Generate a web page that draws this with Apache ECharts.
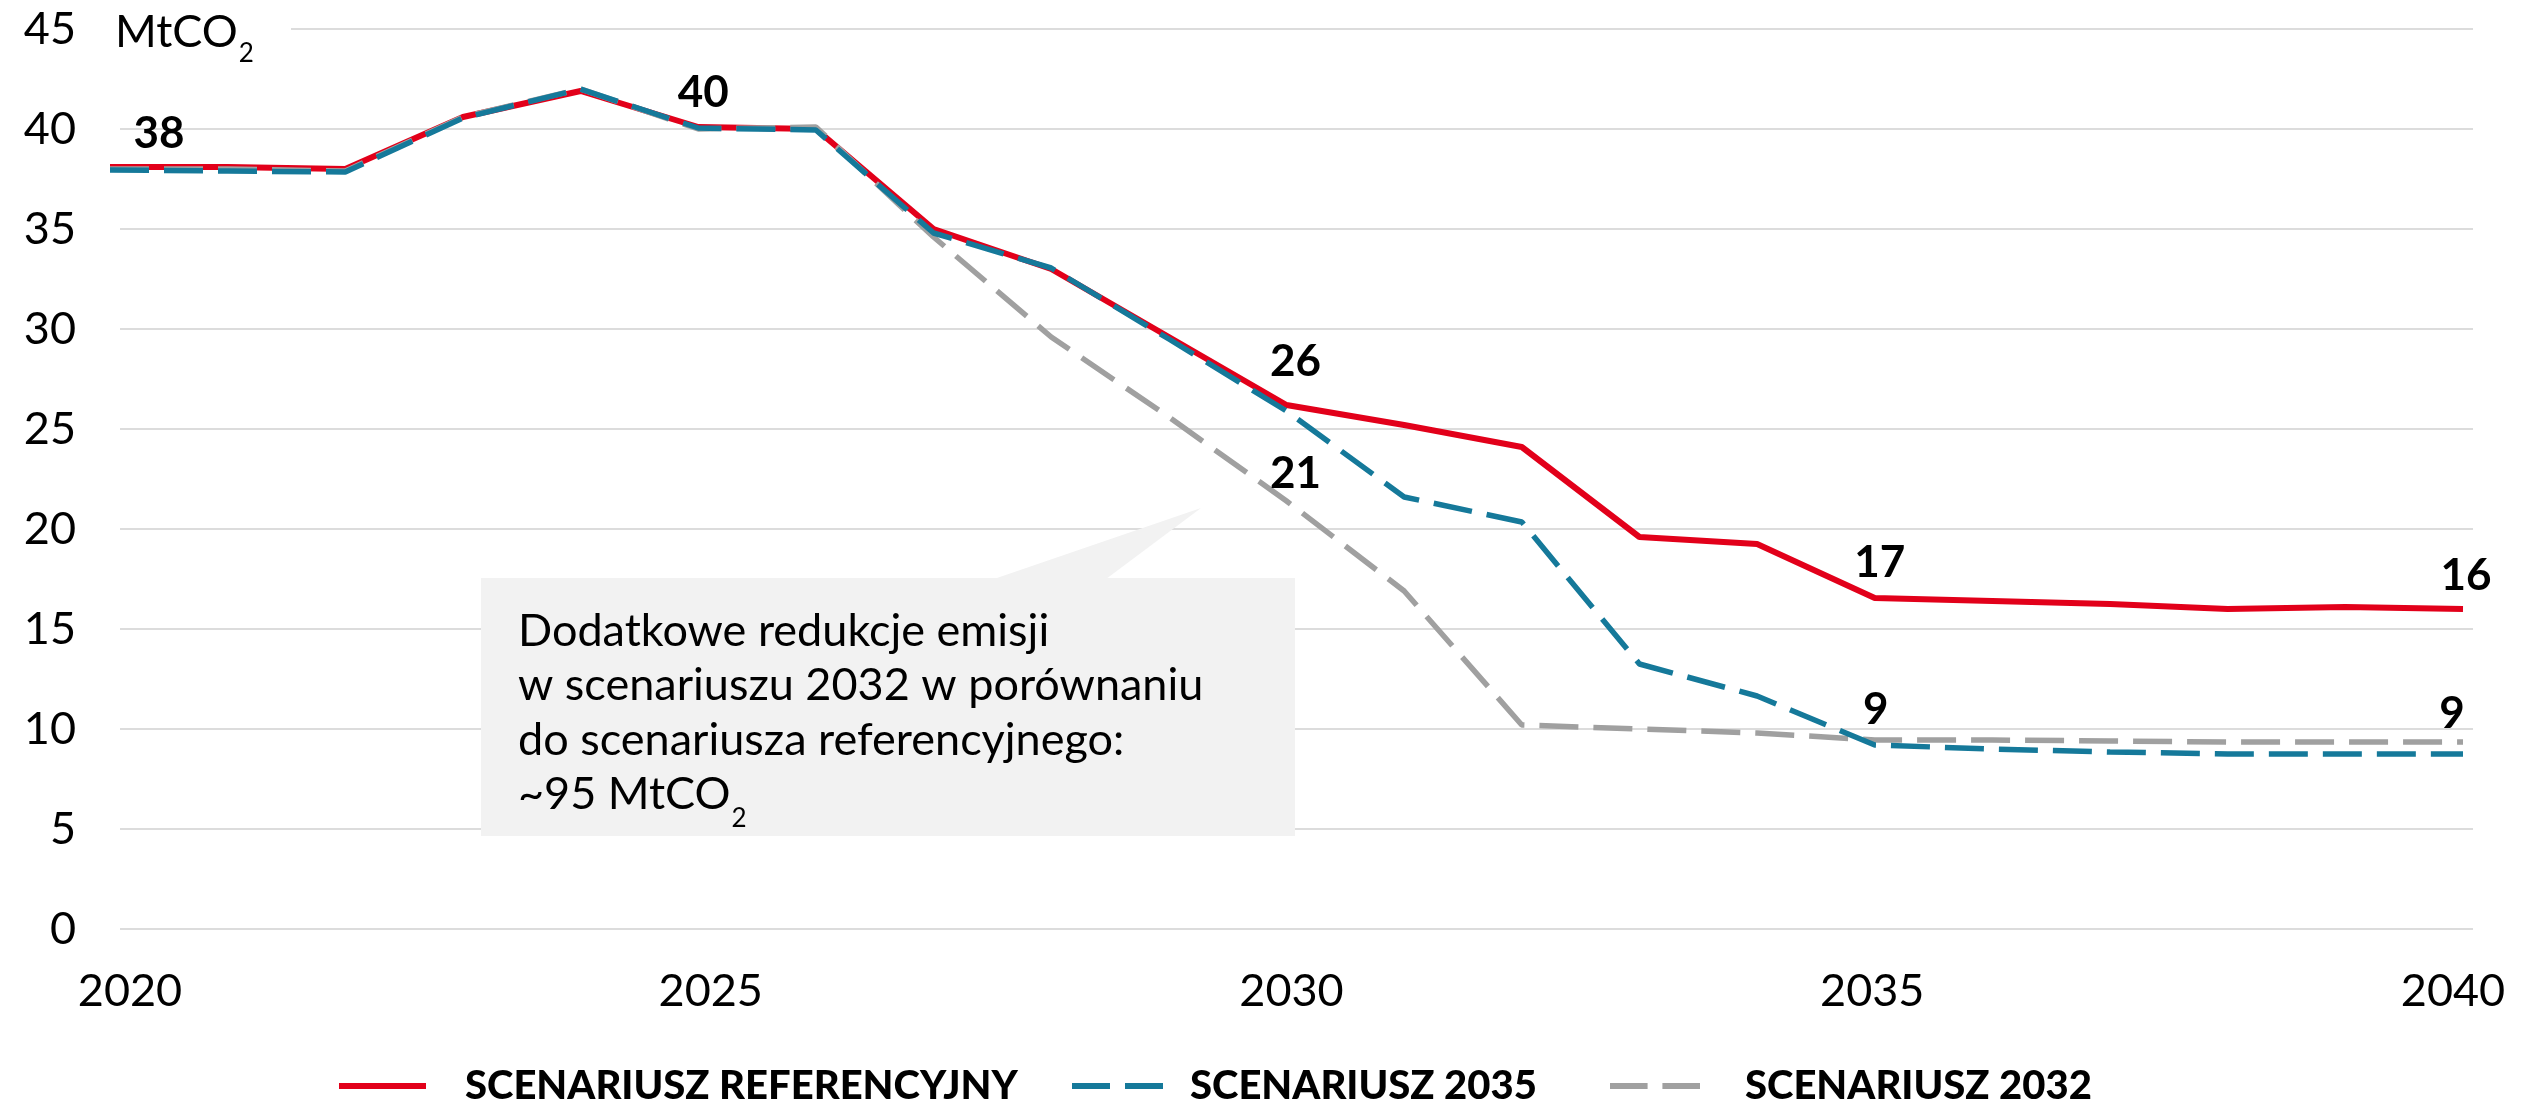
<!DOCTYPE html>
<html>
<head>
<meta charset="utf-8">
<script src="https://cdn.jsdelivr.net/npm/echarts@6/dist/echarts.min.js"></script>
<style>
    html, body { margin: 0; padding: 0; background: #fff; }
    #chart { width: 2526px; height: 1102px; }
</style>
</head>
<body>
<div id="chart"></div>
<script>
// lata na osi X
const years = [2020, 2021, 2022, 2023, 2024, 2025, 2026, 2027, 2028, 2029, 2030,
    2031, 2032, 2033, 2034, 2035, 2036, 2037, 2038, 2039, 2040];

// emisje, MtCO2
const refValues = [38.1, 38.1, 38.0, 40.6, 41.9, 40.1, 40.0, 35.0, 33.0, 29.6, 26.2,
    25.2, 24.1, 19.6, 19.25, 16.55, 16.4, 16.25, 16.0, 16.1, 16.0];
const s2035Values = [37.95, 37.9, 37.85, 40.55, 42.0, 40.05, 39.95, 34.8, 33.05, 29.5, 25.9,
    21.6, 20.35, 13.25, 11.65, 9.2, 9.0, 8.85, 8.75, 8.75, 8.75];
const s2032Values = [38.0, 38.0, 37.9, 40.6, 42.0, 40.0, 40.1, 34.6, 29.6, 25.6, 21.4,
    16.9, 10.2, 10.0, 9.8, 9.45, 9.45, 9.4, 9.35, 9.35, 9.35];

const seriesNames = ['SCENARIUSZ REFERENCYJNY', 'SCENARIUSZ 2035', 'SCENARIUSZ 2032'];

// which points get a value label (year -> label offset in px)
const refLabelOffsets = { 2020: [49, -6], 2025: [5, -7], 2030: [9, -16], 2035: [5, -8], 2040: [3, -6] };
const s2032LabelOffsets = { 2030: [9, 0], 2035: [1, -3], 2040: [-11, -1] };

const calloutLines = ['Dodatkowe redukcje emisji', 'w scenariuszu 2032 w porównaniu', 'do scenariusza referencyjnego:', '~95 MtCO'];

const FONT = 'Lato, "Noto Sans", sans-serif';
const DASH_ICON = 'path://M0,0H38V6H0Z M53,0H91V6H53Z';

function buildData(values, offsets) {
    return years.map((y, i) => {
        const item = { value: [y, values[i]] };
        if (offsets && offsets[y]) {
            item.symbol = 'circle';
            item.symbolSize = 0.1;
            item.label = { show: true, offset: offsets[y] };
        }
        return item;
    });
}

const valueLabel = {
    show: false,
    position: 'top',
    distance: 5,
    formatter: (p) => Math.round(p.value[1]),
    fontFamily: FONT,
    fontWeight: 'bold',
    fontSize: 44,
    color: '#000'
};

function legendAt(left, name, icon, width, textPad) {
    return {
        left: left, top: 1066, padding: 0,
        itemWidth: width, itemHeight: 6,
        data: [{ name: name, icon: icon }],
        textStyle: {
            fontFamily: FONT, fontWeight: 900, fontSize: 40, color: '#000',
            padding: [0, 0, 6, textPad]
        }
    };
}

// width of the text before the subscript
const ctx = document.createElement('canvas').getContext('2d');
ctx.font = '45px Lato';
const mtcoWidth = ctx.measureText('MtCO').width;
const lastLineWidth = ctx.measureText(calloutLines[3]).width;

const chart = echarts.init(document.getElementById('chart'), null, { renderer: 'canvas' });

const option = {
    animation: false,
    backgroundColor: '#fff',
    grid: [
        // lines
        { left: 110, right: 63, top: 29, bottom: 173, outerBoundsMode: 'none' },
        // x labels
        { left: 130, right: 73, top: 29, bottom: 173, outerBoundsMode: 'none' },
        // gridlines + y labels
        { left: 120, right: 53, top: 29, bottom: 173, outerBoundsMode: 'none' }
    ],
    xAxis: [
        {
            type: 'value', gridIndex: 0, min: 2020, max: 2040, interval: 5, show: false
        },
        {
            type: 'value', gridIndex: 1, min: 2020, max: 2040, interval: 5,
            axisLine: { show: false }, axisTick: { show: false }, splitLine: { show: false },
            axisLabel: { color: '#000', fontFamily: FONT, fontSize: 45, margin: 40, formatter: (v) => String(v) }
        },
        {
            type: 'value', gridIndex: 2, min: 2020, max: 2040, show: false
        }
    ],
    yAxis: [
        {
            type: 'value', gridIndex: 0, min: 0, max: 45, interval: 5, show: false
        },
        {
            type: 'value', gridIndex: 1, min: 0, max: 45, show: false
        },
        {
            type: 'value', gridIndex: 2, min: 0, max: 45, interval: 5,
            axisLine: { show: false }, axisTick: { show: false },
            axisLabel: { color: '#000', fontFamily: FONT, fontSize: 45, margin: 44 },
            splitLine: { lineStyle: { color: '#dcdcdc', width: 2 } }
        }
    ],
    legend: [
        legendAt(339, seriesNames[0], 'rect', 87, 34),
        legendAt(1072, seriesNames[1], DASH_ICON, 91, 22),
        legendAt(1610, seriesNames[2], DASH_ICON, 90, 40)
    ],
    series: [
        {
            name: seriesNames[0], type: 'line', z: 2,
            symbol: 'none',
            data: buildData(refValues, refLabelOffsets),
            lineStyle: { color: '#e2001a', width: 6 },
            itemStyle: { color: '#e2001a' },
            label: valueLabel
        },
        {
            name: seriesNames[1], type: 'line', z: 4,
            symbol: 'none',
            data: buildData(s2035Values, null),
            lineStyle: { color: '#15799a', width: 5.5, type: [39, 15] },
            itemStyle: { color: '#15799a' }
        },
        {
            name: seriesNames[2], type: 'line', z: 3,
            symbol: 'none',
            data: buildData(s2032Values, s2032LabelOffsets),
            lineStyle: { color: '#a0a0a0', width: 5.5, type: [39, 15] },
            itemStyle: { color: '#a0a0a0' },
            label: valueLabel
        }
    ],
    graphic: [
        // unit label over the top grid line
        { type: 'rect', z: 50, shape: { x: 100, y: 15, width: 191, height: 30 }, style: { fill: '#fff' } },
        { type: 'text', z: 51, x: 115, y: 32.5,
          style: { text: 'MtCO', font: '45px Lato', fill: '#000', verticalAlign: 'middle' } },
        { type: 'text', z: 51, x: 115 + mtcoWidth + 1, y: 53.6,
          style: { text: '2', font: '26px Lato', fill: '#000', verticalAlign: 'middle' } },
        // callout
        { type: 'polygon', z: 40, shape: { points: [[994, 579], [1106, 579], [1201, 508]] }, style: { fill: '#f2f2f2' } },
        { type: 'rect', z: 40, shape: { x: 481, y: 578, width: 814, height: 258 }, style: { fill: '#f2f2f2' } },
        { type: 'text', z: 41, x: 518, y: 604,
          style: { text: calloutLines.join('\n'), font: '45px Lato', lineHeight: 54.5, fill: '#000', verticalAlign: 'top' } },
        { type: 'text', z: 41, x: 518 + lastLineWidth + 1, y: 818.6,
          style: { text: '2', font: '26px Lato', fill: '#000', verticalAlign: 'middle' } }
    ]
};

chart.setOption(option);
</script>
</body>
</html>
